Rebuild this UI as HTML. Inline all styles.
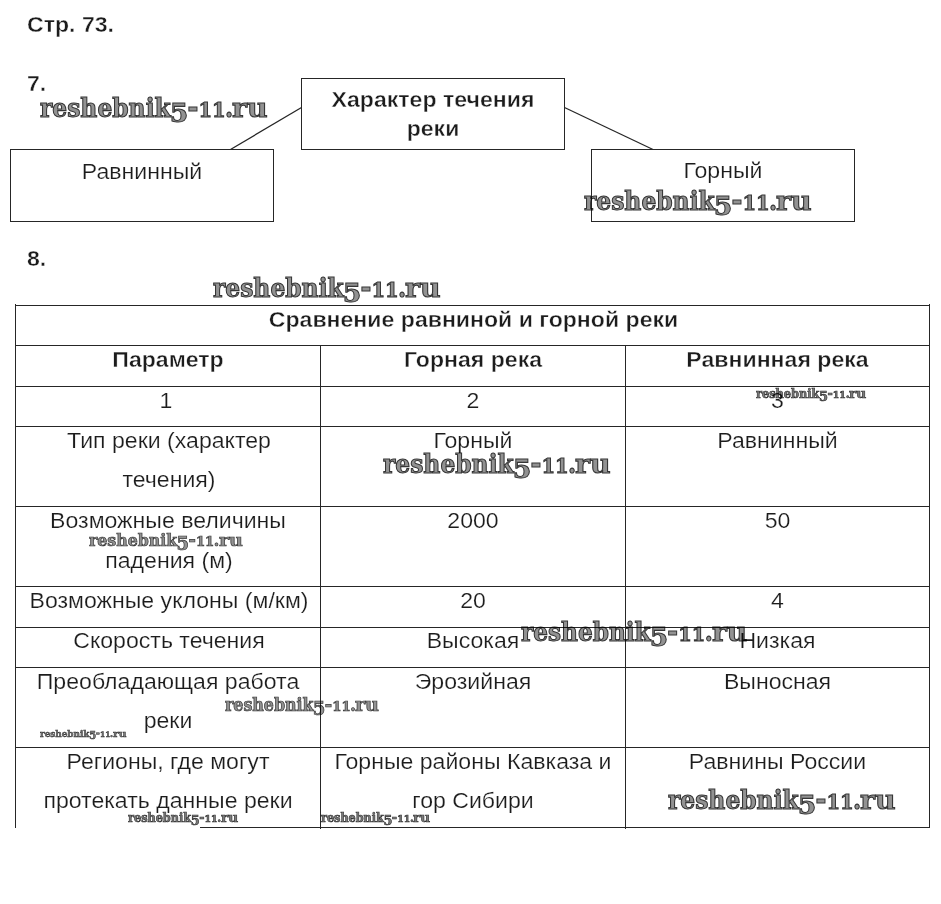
<!DOCTYPE html>
<html lang="ru">
<head>
<meta charset="utf-8">
<title>Стр. 73</title>
<style>
html,body{margin:0;padding:0;background:#fff;}
body{width:941px;height:904px;position:relative;overflow:hidden;font-family:"Liberation Sans",sans-serif;color:#1c1c1c;}
.t{position:absolute;transform:scaleY(.95);transform-origin:0 21px;-webkit-text-stroke:.2px #fff;white-space:nowrap;font-size:23.1px;line-height:26px;height:26px;text-align:center;}
.b{font-weight:bold;color:#1c1c1c;-webkit-text-stroke:.4px #fff;}
.l{text-align:left;}
.hl{position:absolute;height:1px;background:#262626;}
.vl{position:absolute;width:1px;background:#262626;}
.box{position:absolute;border:1px solid #262626;box-sizing:border-box;}
.wm{position:absolute;mix-blend-mode:multiply;white-space:nowrap;font-family:"DejaVu Serif Condensed","DejaVu Serif","Liberation Serif",serif;font-weight:bold;color:#929292;line-height:1;-webkit-text-stroke:.04em #363636;}
.wm.s{color:#7c7c7c;-webkit-text-stroke:.05em #333;}
.wm span{display:inline-block;text-align:center;}
.wm i{line-height:0;}
.wm .f{width:.646em;}
.wm .f i{font-style:normal;font-family:"DejaVu Serif","Liberation Serif",serif;font-size:1.03em;position:relative;top:.2em;margin:0 -1em;}
.wm .d{width:.41em;}
.wm .d i{font-style:normal;font-size:1.12em;margin:0 -1em;}
.wm .n{width:1.07em;}
.wm .n i{font-style:normal;font-family:"DejaVu Serif","Liberation Serif",serif;font-size:.75em;margin:0 -1em;}
.wm .p{width:.246em;}
.wm .p i{font-style:normal;margin:0 -1em;}
.wm .r{width:1.33em;font-family:"DejaVu Serif","Liberation Serif",serif;text-align:left;}
.wm .r i{font-style:normal;display:inline-block;transform:scaleX(1.09);transform-origin:0 50%;margin-left:-.01em;}
svg{position:absolute;left:0;top:0;}
</style>
</head>
<body>
<!-- headings -->
<div class="t b l" style="left:27px;top:11px;">Стр. 73.</div>
<div class="t b l" style="left:27px;top:70px;">7.</div>
<div class="t b l" style="left:27px;top:245px;">8.</div>

<!-- diagram -->
<div class="box" style="left:10px;top:149px;width:264px;height:73px;"></div>
<div class="box" style="left:301px;top:78px;width:264px;height:72px;"></div>
<div class="box" style="left:591px;top:149px;width:264px;height:73px;"></div>
<svg width="941" height="904" viewBox="0 0 941 904">
<line x1="301.5" y1="107.5" x2="230.5" y2="149.5" stroke="#262626" stroke-width="1.25"/>
<line x1="564.5" y1="107.5" x2="653" y2="149.5" stroke="#262626" stroke-width="1.25"/>
</svg>
<div class="t" style="left:10px;width:264px;top:158px;">Равнинный</div>
<div class="t b" style="left:301px;width:264px;top:86px;">Характер течения</div>
<div class="t b" style="left:301px;width:264px;top:115px;">реки</div>
<div class="t" style="left:591px;width:264px;top:157px;">Горный</div>

<!-- table grid -->
<div class="hl" style="left:15px;top:305px;width:915px;"></div>
<div class="hl" style="left:15px;top:345px;width:915px;"></div>
<div class="hl" style="left:15px;top:386px;width:915px;"></div>
<div class="hl" style="left:15px;top:426px;width:915px;"></div>
<div class="hl" style="left:15px;top:506px;width:915px;"></div>
<div class="hl" style="left:15px;top:586px;width:915px;"></div>
<div class="hl" style="left:15px;top:627px;width:915px;"></div>
<div class="hl" style="left:15px;top:667px;width:915px;"></div>
<div class="hl" style="left:15px;top:747px;width:915px;"></div>
<div class="hl" style="left:200px;top:827px;width:730px;"></div>
<div class="vl" style="left:15px;top:304px;height:524px;"></div>
<div class="vl" style="left:929px;top:304px;height:524px;"></div>
<div class="vl" style="left:320px;top:345px;height:484px;"></div>
<div class="vl" style="left:625px;top:345px;height:484px;"></div>

<!-- table text -->
<div class="t b" style="left:16px;width:915px;top:306px;">Сравнение равниной и горной реки</div>

<div class="t b" style="left:15px;width:306px;top:346px;">Параметр</div>
<div class="t b" style="left:320px;width:306px;top:346px;">Горная река</div>
<div class="t b" style="left:625px;width:305px;top:346px;">Равнинная река</div>

<div class="t" style="left:13px;width:306px;top:387px;">1</div>
<div class="t" style="left:320px;width:306px;top:387px;">2</div>
<div class="t" style="left:625px;width:305px;top:387px;">3</div>

<div class="t" style="left:16px;width:306px;top:427px;">Тип реки (характер</div>
<div class="t" style="left:16px;width:306px;top:466px;">течения)</div>
<div class="t" style="left:320px;width:306px;top:427px;">Горный</div>
<div class="t" style="left:625px;width:305px;top:427px;">Равнинный</div>

<div class="t" style="left:15px;width:306px;top:507px;">Возможные величины</div>
<div class="t" style="left:16px;width:306px;top:547px;">падения (м)</div>
<div class="t" style="left:320px;width:306px;top:507px;">2000</div>
<div class="t" style="left:625px;width:305px;top:507px;">50</div>

<div class="t" style="left:16px;width:306px;top:587px;">Возможные уклоны (м/км)</div>
<div class="t" style="left:320px;width:306px;top:587px;">20</div>
<div class="t" style="left:625px;width:305px;top:587px;">4</div>

<div class="t" style="left:16px;width:306px;top:627px;">Скорость течения</div>
<div class="t" style="left:320px;width:306px;top:627px;">Высокая</div>
<div class="t" style="left:625px;width:305px;top:627px;">Низкая</div>

<div class="t" style="left:15px;width:306px;top:668px;">Преобладающая работа</div>
<div class="t" style="left:15px;width:306px;top:707px;">реки</div>
<div class="t" style="left:320px;width:306px;top:668px;">Эрозийная</div>
<div class="t" style="left:625px;width:305px;top:668px;">Выносная</div>

<div class="t" style="left:15px;width:306px;top:748px;">Регионы, где могут</div>
<div class="t" style="left:15px;width:306px;top:787px;">протекать данные реки</div>
<div class="t" style="left:320px;width:306px;top:748px;">Горные районы Кавказа и</div>
<div class="t" style="left:320px;width:306px;top:787px;">гор Сибири</div>
<div class="t" style="left:625px;width:305px;top:748px;">Равнины России</div>

<!-- watermarks -->
<div class="wm" style="left:40px;top:95px;font-size:26px;">reshebnik<span class="f"><i>5</i></span><span class="d"><i>-</i></span><span class="n"><i>11</i></span><span class="p"><i>.</i></span><span class="r"><i>ru</i></span></div>
<div class="wm" style="left:584px;top:188px;font-size:26px;">reshebnik<span class="f"><i>5</i></span><span class="d"><i>-</i></span><span class="n"><i>11</i></span><span class="p"><i>.</i></span><span class="r"><i>ru</i></span></div>
<div class="wm" style="left:213px;top:275px;font-size:26px;">reshebnik<span class="f"><i>5</i></span><span class="d"><i>-</i></span><span class="n"><i>11</i></span><span class="p"><i>.</i></span><span class="r"><i>ru</i></span></div>
<div class="wm s" style="left:756px;top:388px;font-size:12.6px;">reshebnik<span class="f"><i>5</i></span><span class="d"><i>-</i></span><span class="n"><i>11</i></span><span class="p"><i>.</i></span><span class="r"><i>ru</i></span></div>
<div class="wm" style="left:383px;top:451px;font-size:26px;">reshebnik<span class="f"><i>5</i></span><span class="d"><i>-</i></span><span class="n"><i>11</i></span><span class="p"><i>.</i></span><span class="r"><i>ru</i></span></div>
<div class="wm" style="left:89px;top:532px;font-size:17.55px;">reshebnik<span class="f"><i>5</i></span><span class="d"><i>-</i></span><span class="n"><i>11</i></span><span class="p"><i>.</i></span><span class="r"><i>ru</i></span></div>
<div class="wm" style="left:521px;top:620px;font-size:25.8px;">reshebnik<span class="f"><i>5</i></span><span class="d"><i>-</i></span><span class="n"><i>11</i></span><span class="p"><i>.</i></span><span class="r"><i>ru</i></span></div>
<div class="wm" style="left:225px;top:696px;font-size:17.6px;">reshebnik<span class="f"><i>5</i></span><span class="d"><i>-</i></span><span class="n"><i>11</i></span><span class="p"><i>.</i></span><span class="r"><i>ru</i></span></div>
<div class="wm s" style="left:40px;top:729px;font-size:9.85px;">reshebnik<span class="f"><i>5</i></span><span class="d"><i>-</i></span><span class="n"><i>11</i></span><span class="p"><i>.</i></span><span class="r"><i>ru</i></span></div>
<div class="wm s" style="left:128px;top:812px;font-size:12.55px;">reshebnik<span class="f"><i>5</i></span><span class="d"><i>-</i></span><span class="n"><i>11</i></span><span class="p"><i>.</i></span><span class="r"><i>ru</i></span></div>
<div class="wm s" style="left:321px;top:812px;font-size:12.5px;">reshebnik<span class="f"><i>5</i></span><span class="d"><i>-</i></span><span class="n"><i>11</i></span><span class="p"><i>.</i></span><span class="r"><i>ru</i></span></div>
<div class="wm" style="left:668px;top:787px;font-size:26px;">reshebnik<span class="f"><i>5</i></span><span class="d"><i>-</i></span><span class="n"><i>11</i></span><span class="p"><i>.</i></span><span class="r"><i>ru</i></span></div>
</body>
</html>
